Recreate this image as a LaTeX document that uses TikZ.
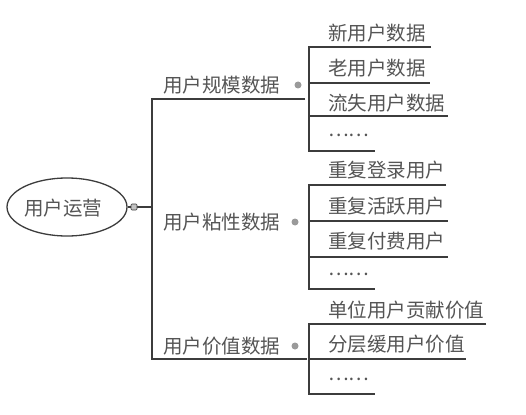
\documentclass[tikz,border=0pt]{standalone}
\usepackage{fontspec}
\newfontfamily\cjk{Noto Sans CJK SC}
\usetikzlibrary{shapes.geometric}
\definecolor{txtgray}{HTML}{555555}
\definecolor{lngray}{HTML}{3C3C3C}
\definecolor{dotgray}{HTML}{9A9A9A}
\begin{document}
\begin{tikzpicture}[x=1pt,y=-1pt,
  lbl/.style={font=\cjk\fontsize{19.5}{20}\selectfont, text=txtgray, inner sep=0pt, anchor=west},
  ln/.style={draw=lngray, line width=1.5pt},
  dotmark/.style={circle, fill=dotgray, minimum size=7pt, inner sep=0pt},
  rootbox/.style={ellipse, draw=lngray, line width=1.3pt, minimum width=120pt, minimum height=58pt, inner sep=0pt}
]
\fill[white] (0,0) rectangle (526,414);
\useasboundingbox (0,0) rectangle (526,414);

% root
\node[rootbox] (root) at (67,207) {};
\node[lbl, anchor=center] (roottxt) at (63,208) {用户运营};
\coordinate (spine) at (152,207);
\draw[ln] (root.east) -- (spine);
\node[draw=lngray, fill=dotgray!60, rounded corners=1pt, minimum size=6pt, inner sep=0pt, line width=0.6pt] (rootmark) at (134,207) {};

% main spine
\coordinate (sTop) at (152,99);
\coordinate (sBot) at (152,359);
\coordinate (g1end) at (305,99);
\coordinate (g3end) at (307,359);
\draw[ln] (g1end) -- (sTop) -- (sBot) -- (g3end);

% level-1 labels
\node[lbl] (g1) at (163,85) {用户规模数据};
\node[dotmark] (g1dot) at (298,85) {};
\node[lbl] (g2) at (163,222) {用户粘性数据};
\node[dotmark] (g2dot) at (295,222) {};
\node[lbl] (g3) at (163,346) {用户价值数据};
\node[dotmark] (g3dot) at (295,346) {};

% group 1
\coordinate (v1t) at (309,47);
\coordinate (v1b) at (309,151);
\coordinate (a1) at (431,47);
\coordinate (a2s) at (309,83);  \coordinate (a2) at (430,83);
\coordinate (a3s) at (309,116); \coordinate (a3) at (448,116);
\coordinate (a4) at (375,151);
\draw[ln] (a1) -- (v1t) -- (v1b) -- (a4);
\draw[ln] (a2s) -- (a2);
\draw[ln] (a3s) -- (a3);
\node[lbl] (t11) at (328,33) {新用户数据};
\node[lbl] (t12) at (328,68) {老用户数据};
\node[lbl] (t13) at (328,103) {流失用户数据};
\node[lbl] (t14) at (328,135) {……};

% group 2
\coordinate (v2t) at (309,185);
\coordinate (v2b) at (309,289);
\coordinate (b1) at (446,185);
\coordinate (b2s) at (309,221); \coordinate (b2) at (448,221);
\coordinate (b3s) at (309,257); \coordinate (b3) at (448,257);
\coordinate (b4) at (375,289);
\draw[ln] (b1) -- (v2t) -- (v2b) -- (b4);
\draw[ln] (b2s) -- (b2);
\draw[ln] (b3s) -- (b3);
\node[lbl] (t21) at (328,170) {重复登录用户};
\node[lbl] (t22) at (328,206) {重复活跃用户};
\node[lbl] (t23) at (328,241) {重复付费用户};
\node[lbl] (t24) at (328,274) {……};

% group 3
\coordinate (v3t) at (309,324);
\coordinate (v3b) at (309,394);
\coordinate (c1) at (486,324);
\coordinate (c2s) at (309,359); \coordinate (c2) at (466,359);
\coordinate (c3) at (375,394);
\draw[ln] (c1) -- (v3t) -- (v3b) -- (c3);
\draw[ln] (c2s) -- (c2);
\node[lbl] (t31) at (328,310) {单位用户贡献价值};
\node[lbl] (t32) at (328,344) {分层缓用户价值};
\node[lbl] (t33) at (328,379) {……};
\end{tikzpicture}
\end{document}
